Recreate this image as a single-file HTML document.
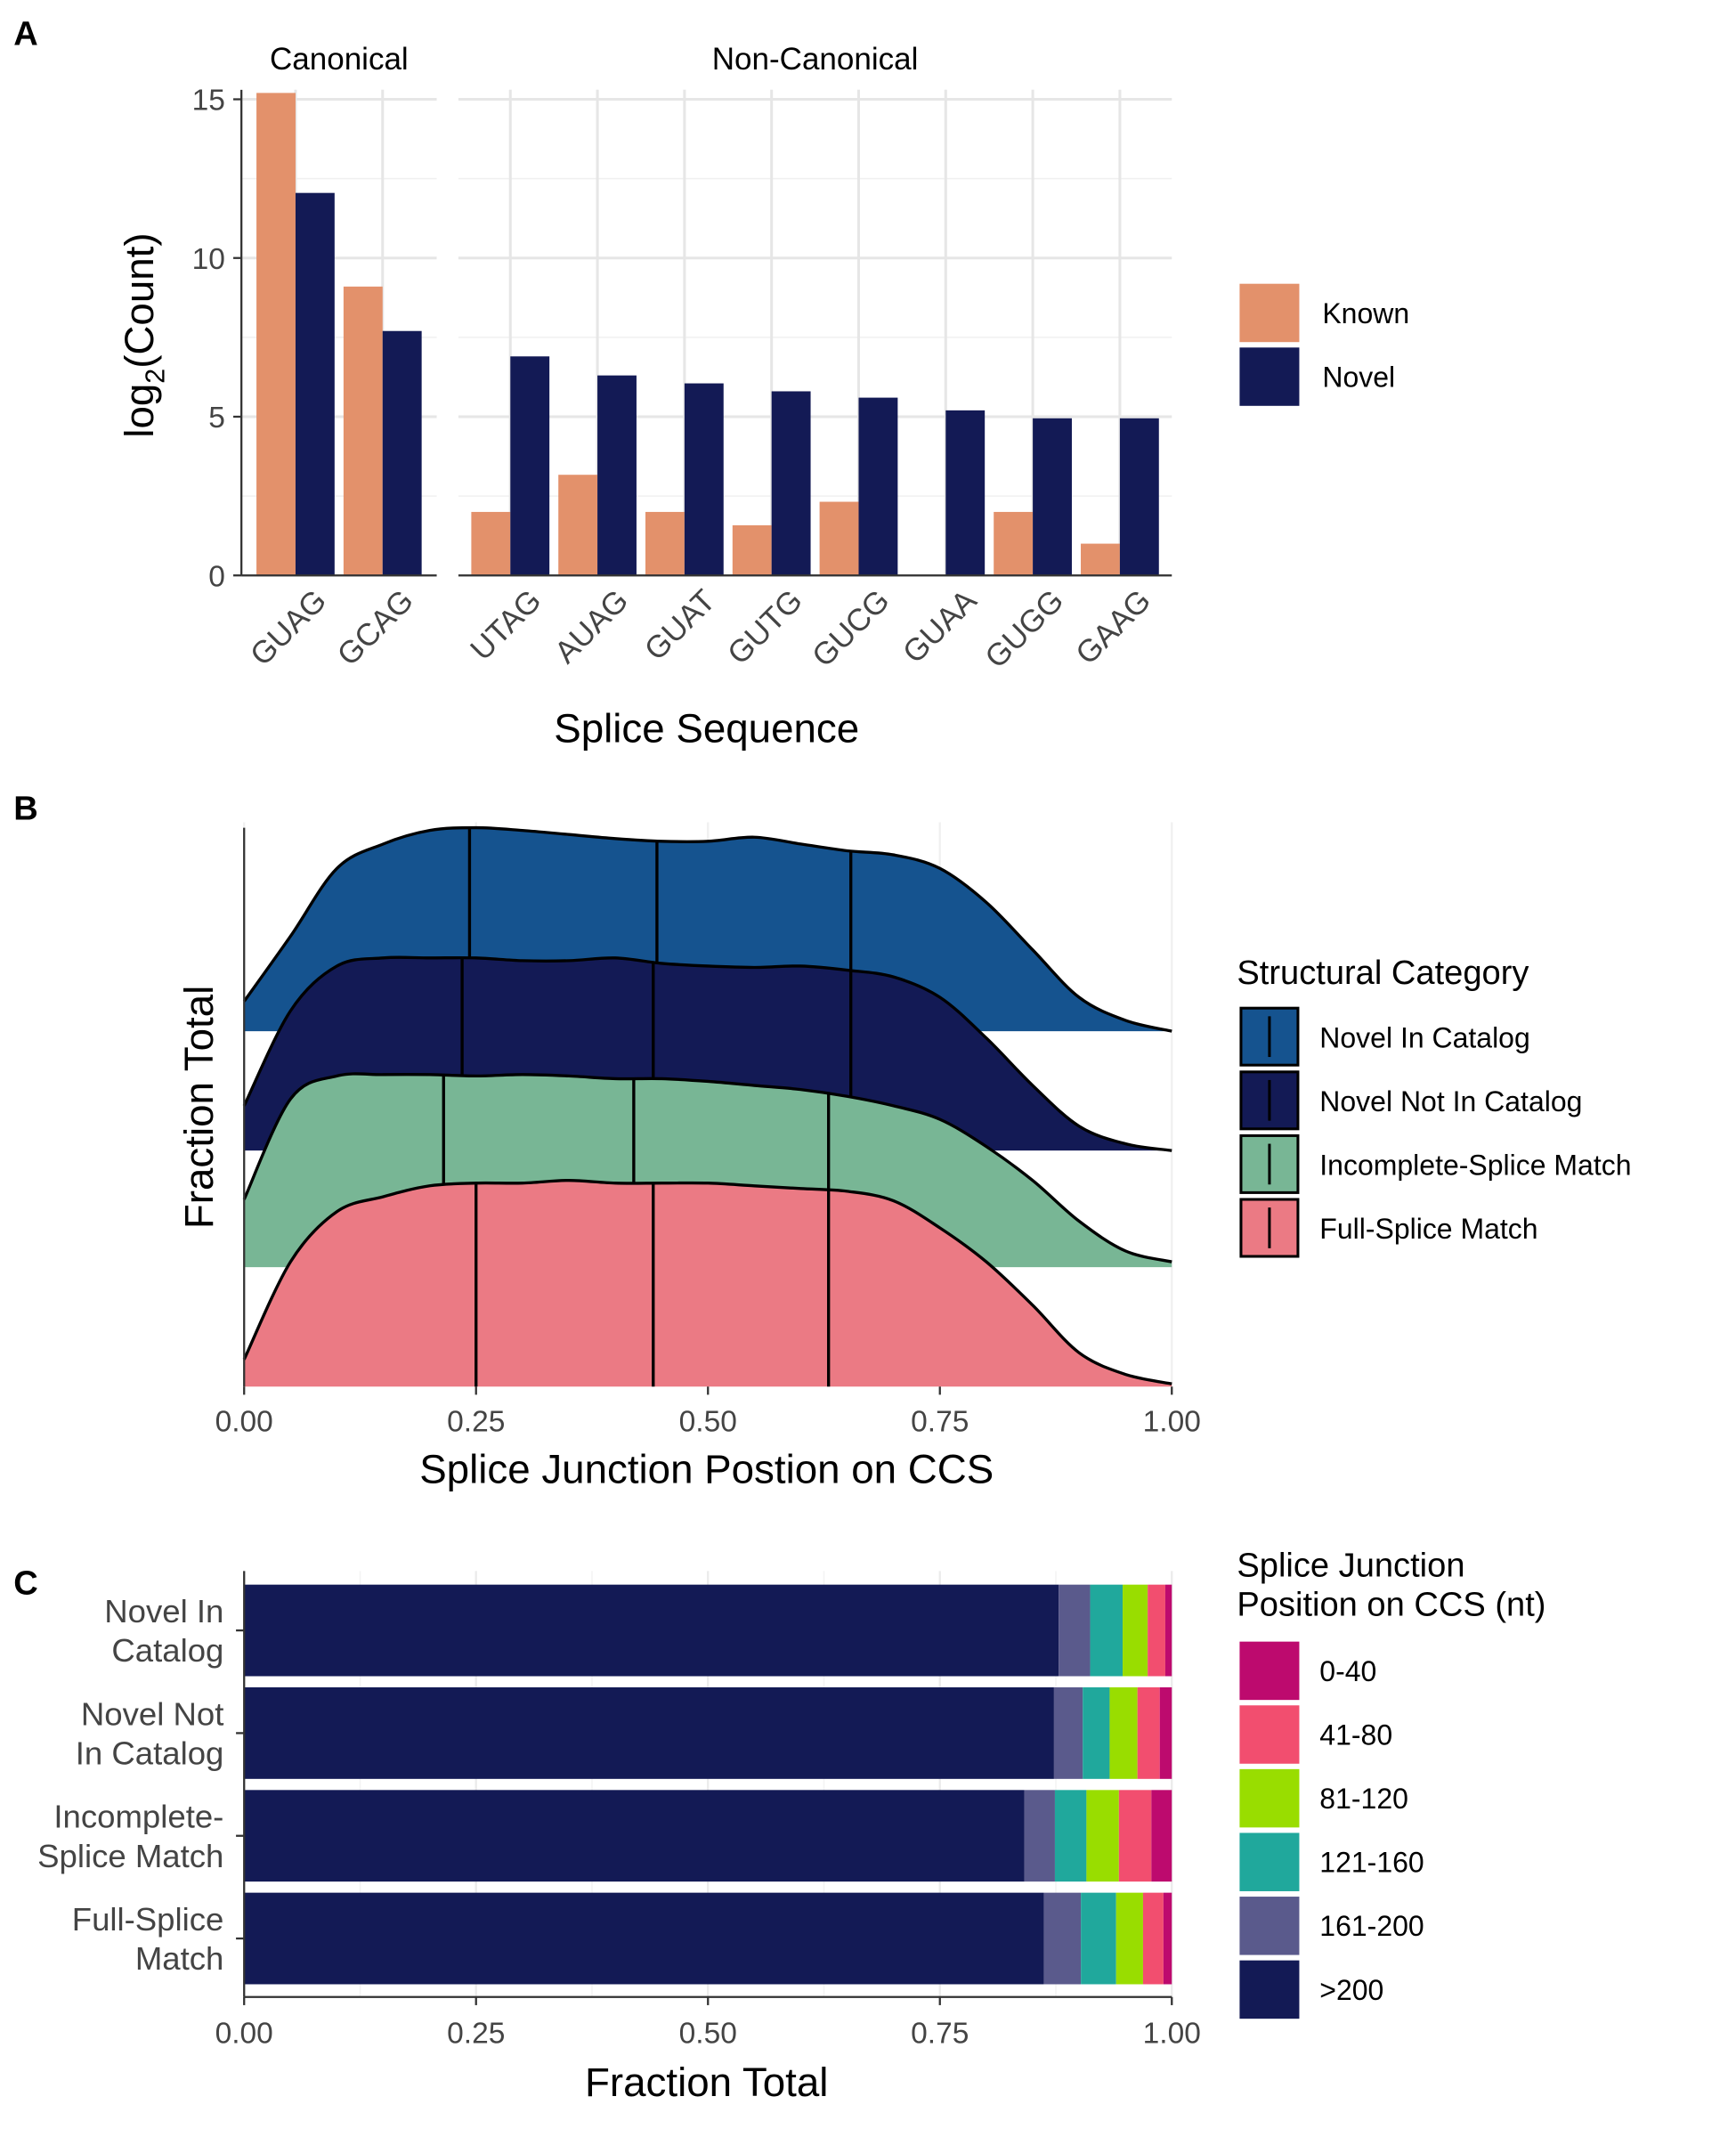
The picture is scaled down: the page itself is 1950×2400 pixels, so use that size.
<!DOCTYPE html>
<html><head><meta charset="utf-8"><style>
html,body{margin:0;padding:0;background:#fff}
svg{display:block;font-family:"Liberation Sans",Arial,sans-serif}
</style></head><body>
<svg id="fig" width="1950" height="2400" viewBox="0 0 1280 1575" xmlns="http://www.w3.org/2000/svg">
<g id="pA"></g>
<g id="pB"></g>
<g id="pC"></g>
</svg>
<script>
// ---- Panel A data ----
const canonCats = ["GUAG","GCAG"];
const canonKnown = [15.2, 9.1];
const canonNovel = [12.05, 7.7];
const nonCats = ["UTAG","AUAG","GUAT","GUTG","GUCG","GUAA","GUGG","GAAG"];
const nonKnown = [2.0, 3.17, 2.0, 1.58, 2.32, 0, 2.0, 1.0];
const nonNovel = [6.9, 6.3, 6.05, 5.8, 5.6, 5.2, 4.95, 4.95];
const aTicks = [0,5,10,15];
// ---- Panel B data ----
const ridgeCats = ["Novel In Catalog","Novel Not In Catalog","Incomplete-Splice Match","Full-Splice Match"];
const ridgeX = [0,0.05,0.1,0.15,0.2,0.25,0.3,0.35,0.4,0.45,0.5,0.55,0.6,0.65,0.7,0.75,0.8,0.85,0.9,0.95,1];
const densNIC = [22,70,120,138,148,150,148,145,142,140,140,143,138,133,130,120,95,60,25,8,0];
const densNNC = [33,103,136,142,142,142,140,140,142,138,136,135,136,133,128,113,83,48,18,5,0];
const densISM = [50,124,141,142,142,141,142,141,139,139,137,134,131,126,119,109,89,64,34,12,4];
const densFSM = [20,92,129,140,148,150,150,152,150,150,150,148,146,144,137,117,92,60,25,9,2];
const quantNIC = [0.243,0.445,0.654];
const quantNNC = [0.235,0.441,0.654];
const quantISM = [0.215,0.42,0.63];
const quantFSM = [0.25,0.441,0.63];
const bTicks = [0,0.25,0.5,0.75,1];
// ---- Panel C data ----
const stackCats = ["Novel In Catalog","Novel Not In Catalog","Incomplete-Splice Match","Full-Splice Match"];
const bins = [">200","161-200","121-160","81-120","41-80","0-40"];
const fracNIC = [0.878,0.034,0.035,0.027,0.019,0.007];
const fracNNC = [0.873,0.031,0.029,0.030,0.024,0.013];
const fracISM = [0.841,0.033,0.034,0.035,0.035,0.022];
const fracFSM = [0.862,0.040,0.038,0.029,0.022,0.009];

const NS="http://www.w3.org/2000/svg";
function el(parent,tag,attrs,text){const e=document.createElementNS(NS,tag);for(const k in attrs)e.setAttribute(k,attrs[k]);if(text!==undefined)e.textContent=text;parent.appendChild(e);return e;}
const KNOWN="#e3916b", NOVEL="#131a55";

// ========== Panel A ==========
const A=document.getElementById('pA');
const ay=v=>424-v*23.4;
let t=el(A,'text',{x:10,y:33,'font-size':25,'font-weight':'bold'},'A');

function facet(x0,x1,cats,known,novel,label){
  const g=el(A,'g',{});
  
  for(const v of [2.5,7.5,12.5]) el(g,'line',{x1:x0,x2:x1,y1:ay(v),y2:ay(v),stroke:'#f0f0f0','stroke-width':1});
  for(const v of aTicks) el(g,'line',{x1:x0,x2:x1,y1:ay(v),y2:ay(v),stroke:'#e6e6e6','stroke-width':2});
  const step=64.2, start=x0+ (x1-x0-step*cats.length)/2;
  cats.forEach((c,i)=>{
    const cx=start+step*(i+0.5);
    el(g,'line',{x1:cx,x2:cx,y1:ay(15.3),y2:424,stroke:'#e6e6e6','stroke-width':2});
  });
  cats.forEach((c,i)=>{
    const cx=start+step*(i+0.5), w=28.8;
    let r=el(g,'rect',{x:cx-w,y:ay(known[i]),width:w,height:known[i]*23.4,fill:KNOWN});
    
    r=el(g,'rect',{x:cx,y:ay(novel[i]),width:w,height:novel[i]*23.4,fill:NOVEL});
    
    const tl=el(g,'text',{transform:`translate(${cx+24},${444}) rotate(-45)`,'text-anchor':'end','font-size':23,fill:'#444'},c);
    
  });
  el(g,'line',{x1:x0,x2:x1,y1:424,y2:424,stroke:'#333','stroke-width':1.5});
  const st=el(g,'text',{x:(x0+x1)/2,y:51,'text-anchor':'middle','font-size':23},label);
  
}
facet(178,322,canonCats,canonKnown,canonNovel,'Canonical');
facet(338,864,nonCats,nonKnown,nonNovel,'Non-Canonical');
el(A,'line',{x1:178,x2:178,y1:66,y2:424,stroke:'#333','stroke-width':1.5});
aTicks.forEach(v=>{
  el(A,'line',{x1:172,x2:178,y1:ay(v),y2:ay(v),stroke:'#333','stroke-width':1.5});
  const l=el(A,'text',{x:166,y:ay(v)+8,'text-anchor':'end','font-size':22,fill:'#444'},String(v));
  
});
t=el(A,'text',{transform:'translate(113,247) rotate(-90)','text-anchor':'middle','font-size':30});
t.innerHTML='log<tspan font-size="20" dy="8">2</tspan><tspan dy="-8">(Count)</tspan>';

t=el(A,'text',{x:521,y:547,'text-anchor':'middle','font-size':30},'Splice Sequence');

[['Known',KNOWN,209],['Novel',NOVEL,256]].forEach(([n,c,y])=>{
  const g=el(A,'g',{});
  el(g,'rect',{x:914,y:y,width:44,height:43,fill:c});
  el(g,'text',{x:975,y:y+29,'font-size':21},n);
});

// ========== Panel B ==========
const B=document.getElementById('pB');
const bx=v=>180+v*684;
t=el(B,'text',{x:10,y:604,'font-size':25,'font-weight':'bold'},'B');

bTicks.forEach(v=>el(B,'line',{x1:bx(v),x2:bx(v),y1:606,y2:1022,stroke:'#f0f0f0','stroke-width':1.5}));
const ridges=[[densNIC,quantNIC,760,'#15538f'],[densNNC,quantNNC,848,'#131a55'],[densISM,quantISM,934,'#78b695'],[densFSM,quantFSM,1022,'#eb7a84']];
function smoothPath(pts){
  let d=`M${pts[0][0]},${pts[0][1]}`;
  for(let i=0;i<pts.length-1;i++){
    const p0=pts[Math.max(0,i-1)],p1=pts[i],p2=pts[i+1],p3=pts[Math.min(pts.length-1,i+2)];
    d+=` C${p1[0]+(p2[0]-p0[0])/6},${p1[1]+(p2[1]-p0[1])/6} ${p2[0]-(p3[0]-p1[0])/6},${p2[1]-(p3[1]-p1[1])/6} ${p2[0]},${p2[1]}`;
  }
  return d;
}
function interp(d,q){const k=q/0.05,i=Math.min(Math.floor(k),d.length-2),f=k-i;return d[i]*(1-f)+d[i+1]*f;}
ridges.forEach(([dens,qs,base,col],ri)=>{
  const g=el(B,'g',{});
  
  
  const pts=ridgeX.map((x,i)=>[bx(x),base-dens[i]]);
  const line=smoothPath(pts);
  el(g,'path',{d:line+` L${bx(1)},${base} L${bx(0)},${base} Z`,fill:col});
  el(g,'path',{d:line,fill:'none',stroke:'#000','stroke-width':2.2});
  qs.forEach(q=>el(g,'line',{x1:bx(q),x2:bx(q),y1:base,y2:base-interp(dens,q),stroke:'#000','stroke-width':2.2}));
});
el(B,'line',{x1:180,x2:180,y1:610,y2:1022,stroke:'#333','stroke-width':1.5});
bTicks.forEach(v=>{
  el(B,'line',{x1:bx(v),x2:bx(v),y1:1022,y2:1028,stroke:'#333','stroke-width':1.5});
  const l=el(B,'text',{x:bx(v),y:1055,'text-anchor':'middle','font-size':22,fill:'#444'},v.toFixed(2));
  
});
t=el(B,'text',{transform:'translate(157,816) rotate(-90)','text-anchor':'middle','font-size':30},'Fraction Total');

t=el(B,'text',{x:521,y:1093,'text-anchor':'middle','font-size':30},'Splice Junction Postion on CCS');

t=el(B,'text',{x:912,y:725,'font-size':25},'Structural Category');

ridges.forEach(([d,q,b,col],i)=>{
  const g=el(B,'g',{});
  const y=743+i*47;
  el(g,'rect',{x:915,y:y,width:42,height:42,fill:col,stroke:'#000','stroke-width':2});
  el(g,'line',{x1:936,x2:936,y1:y+6,y2:y+36,stroke:'#000','stroke-width':2});
  el(g,'text',{x:973,y:y+29,'font-size':21},ridgeCats[i]);
});

// ========== Panel C ==========
const C=document.getElementById('pC');
const cx=v=>180+v*684;
t=el(C,'text',{x:10,y:1175,'font-size':25,'font-weight':'bold'},'C');

const binCols=["#131a55","#5a5a8c","#20a89c","#99dd00","#f24e6f","#bd0a6e"];
[0.125,0.375,0.625,0.875].forEach(v=>el(C,'line',{x1:cx(v),x2:cx(v),y1:1158,y2:1472,stroke:'#f3f3f3','stroke-width':1}));
bTicks.forEach(v=>el(C,'line',{x1:cx(v),x2:cx(v),y1:1158,y2:1472,stroke:'#ebebeb','stroke-width':1.5}));
const rows=[fracNIC,fracNNC,fracISM,fracFSM];
const rowLabels=[["Novel In","Catalog"],["Novel Not","In Catalog"],["Incomplete-","Splice Match"],["Full-Splice","Match"]];
rows.forEach((fr,ri)=>{
  const y0=1168+ri*75.7, h=67.5;
  const g=el(C,'g',{});
  let acc=0;
  fr.forEach((f,bi)=>{
    const r=el(g,'rect',{x:cx(acc),y:y0,width:f*684,height:h,fill:binCols[bi]});
    
    acc+=f;
  });
  const yc=y0+h/2;
  el(C,'line',{x1:174,x2:180,y1:yc,y2:yc,stroke:'#333','stroke-width':1.5});
  const l=el(C,'text',{'text-anchor':'end','font-size':24,fill:'#444'});
  
  el(l,'tspan',{x:165,y:yc-6},rowLabels[ri][0]);
  el(l,'tspan',{x:165,y:yc+23},rowLabels[ri][1]);
});
el(C,'line',{x1:180,x2:180,y1:1158,y2:1472,stroke:'#333','stroke-width':1.5});
el(C,'line',{x1:180,x2:864,y1:1472,y2:1472,stroke:'#333','stroke-width':1.5});
bTicks.forEach(v=>{
  el(C,'line',{x1:cx(v),x2:cx(v),y1:1472,y2:1478,stroke:'#333','stroke-width':1.5});
  const l=el(C,'text',{x:cx(v),y:1506,'text-anchor':'middle','font-size':22,fill:'#444'},v.toFixed(2));
  
});
t=el(C,'text',{x:521,y:1545,'text-anchor':'middle','font-size':30},'Fraction Total');

t=el(C,'text',{'font-size':25});

el(t,'tspan',{x:912,y:1162},'Splice Junction');
el(t,'tspan',{x:912,y:1191},'Position on CCS (nt)');
const legOrder=[5,4,3,2,1,0];
legOrder.forEach((bi,i)=>{
  const g=el(C,'g',{});
  const y=1210+i*47;
  el(g,'rect',{x:914,y:y,width:44,height:43,fill:binCols[bi]});
  el(g,'text',{x:973,y:y+29,'font-size':21},bins[bi]);
});
</script>
</body></html>
